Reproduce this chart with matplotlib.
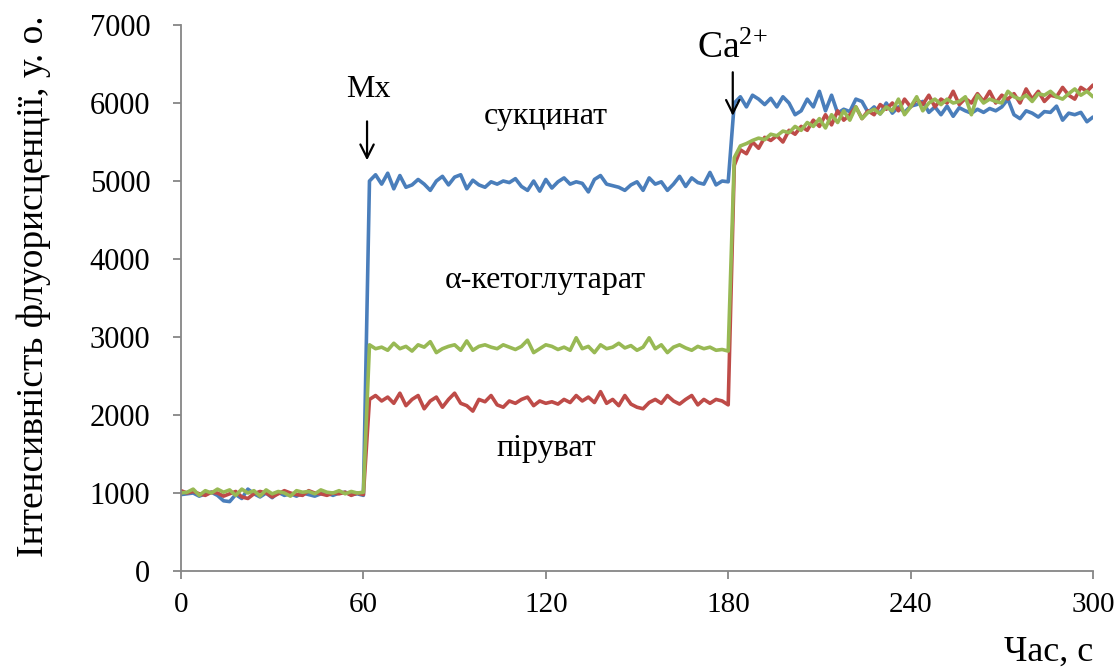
import numpy as np
import matplotlib.pyplot as plt

plt.rcParams['font.family'] = ['Liberation Serif', 'DejaVu Serif']

# time, s (one reading every 2 s)
t = np.arange(0, 301, 2)

# fluorescence, arb. units
succinate = [
    # 0..60 s
    980, 990, 1000, 960, 990, 1010, 970, 900, 890, 980,
    930, 1050, 990, 950, 1000, 940, 1010, 970, 990, 960,
    1000, 980, 960, 990, 1000, 970, 1000, 1010, 980, 990, 970,
    # 62..180 s
    5000, 5080, 4960, 5100, 4900, 5070, 4920, 4950, 5020, 4960,
    4880, 5000, 5060, 4950, 5050, 5080, 4900, 5010, 4950, 4920,
    4990, 4960, 5000, 4980, 5030, 4930, 4880, 5000, 4870, 5020,
    4910, 4990, 5040, 4960, 4990, 4970, 4860, 5020, 5070, 4960,
    4940, 4920, 4880, 4950, 4990, 4880, 5040, 4960, 4990, 4880,
    4960, 5060, 4930, 5040, 4980, 4960, 5110, 4950, 5000, 4990,
    # 182..300 s
    6000, 6080, 5950, 6100, 6050, 5980, 6060, 5950, 6080, 6000,
    5850, 5900, 6050, 5950, 6150, 5900, 6100, 5870, 5920, 5890,
    6050, 6020, 5880, 5950, 5860, 6000, 5870, 5950, 5880, 5960,
    5980, 6020, 5880, 5950, 5850, 5960, 5830, 5940, 5900, 5870,
    5920, 5880, 5930, 5900, 5950, 6050, 5850, 5800, 5900, 5870,
    5820, 5890, 5880, 5960, 5780, 5870, 5850, 5880, 5760, 5820,
]
pyruvate = [
    1030, 1000, 1020, 990, 970, 1010, 1000, 960, 990, 1020,
    950, 930, 990, 1020, 1000, 950, 990, 1030, 1000, 980,
    970, 1030, 1000, 990, 970, 1000, 990, 1010, 970, 1000, 980,
    2200, 2250, 2180, 2230, 2150, 2280, 2120, 2200, 2250, 2080,
    2180, 2230, 2100, 2200, 2280, 2150, 2120, 2050, 2200, 2170,
    2250, 2130, 2100, 2180, 2150, 2200, 2230, 2120, 2180, 2150,
    2170, 2140, 2200, 2160, 2250, 2180, 2230, 2160, 2300, 2150,
    2200, 2120, 2250, 2140, 2100, 2080, 2160, 2200, 2150, 2250,
    2180, 2140, 2200, 2250, 2130, 2200, 2150, 2200, 2180, 2130,
    5200, 5400, 5350, 5500, 5420, 5560, 5520, 5580, 5500, 5650,
    5600, 5700, 5650, 5780, 5700, 5850, 5720, 5900, 5780, 5850,
    5950, 5800, 5900, 5850, 5980, 5920, 6000, 5900, 6050, 5950,
    6050, 5980, 6100, 5950, 6050, 6000, 6150, 5980, 6060, 6000,
    6120, 6020, 6150, 6000, 6100, 6050, 6120, 6000, 6180, 6050,
    6150, 6020, 6100, 6080, 6200, 6100, 6050, 6200, 6150, 6230,
]
ketoglutarate = [
    1000, 1010, 1050, 970, 1030, 1000, 1050, 1010, 1040, 970,
    1050, 1000, 1030, 960, 1040, 990, 1020, 1000, 960, 1030,
    1010, 1020, 990, 1040, 1010, 1000, 1030, 990, 1020, 1000, 1010,
    2900, 2850, 2870, 2830, 2920, 2850, 2880, 2820, 2900, 2870,
    2940, 2800, 2850, 2880, 2900, 2830, 2950, 2830, 2880, 2900,
    2870, 2850, 2900, 2870, 2840, 2880, 2960, 2800, 2850, 2900,
    2880, 2840, 2870, 2830, 2990, 2850, 2880, 2800, 2900, 2850,
    2870, 2920, 2860, 2890, 2830, 2870, 2990, 2850, 2900, 2800,
    2870, 2900, 2860, 2830, 2880, 2850, 2870, 2830, 2840, 2820,
    5300, 5450, 5480, 5520, 5550, 5530, 5600, 5580, 5640, 5620,
    5700, 5650, 5750, 5700, 5800, 5680, 5850, 5750, 5900, 5780,
    5950, 5800, 5880, 5920, 5860, 5950, 5900, 6050, 5850, 5950,
    6080, 5900, 6000, 6050, 5980, 6050, 6000, 6020, 6080, 5850,
    6100, 6000, 6050, 6020, 6000, 6150, 6080, 6050, 6100, 6020,
    6120, 6100, 6150, 6080, 6050, 6120, 6180, 6100, 6150, 6080,
]

fig = plt.figure(figsize=(11.2, 6.67), dpi=100)
ax = fig.add_axes([0.1616, 0.1439, 0.8143, 0.8186])

line_kw = dict(lw=2.6, solid_joinstyle='round', solid_capstyle='round')
ax.plot(t, succinate, color='#4A7EBB', **line_kw)
ax.plot(t, pyruvate, color='#BE4B48', **line_kw)
ax.plot(t, ketoglutarate, color='#98B954', **line_kw)

ax.set_xlim(0, 300)
ax.set_ylim(0, 7000)
ax.set_xticks(range(0, 301, 60))
ax.set_yticks(range(0, 7001, 1000))
for s in ['top', 'right']:
    ax.spines[s].set_visible(False)
for s in ['left', 'bottom']:
    ax.spines[s].set_color('#868686')
    ax.spines[s].set_linewidth(1.3)
ax.tick_params(colors='#868686', labelcolor='black', length=6, width=1.3)
ax.tick_params(axis='y', labelsize=22, pad=16)
ax.tick_params(axis='x', labelsize=21, pad=9)

ax.set_ylabel('Інтенсивність флуорисценції, у. о.', fontsize=27)
ax.yaxis.set_label_coords(-0.143, 0.522)
ax.set_xlabel('Час, с', fontsize=26, ha='right')
ax.xaxis.set_label_coords(1.0, -0.118)

ax.text(61.5, 6170, 'Мх', ha='center', va='center', fontsize=23)
ax.annotate('', xy=(61.2, 5230), xytext=(61.2, 5800),
            arrowprops=dict(arrowstyle='->', color='black', lw=1.6, mutation_scale=24))
ax.text(181.5, 6700, r'$\mathregular{Ca^{2{+}}}$', ha='center', va='center', fontsize=27)
ax.annotate('', xy=(181.5, 5800), xytext=(181.5, 6430),
            arrowprops=dict(arrowstyle='->', color='black', lw=1.6, mutation_scale=24))
ax.text(120, 5830, 'сукцинат', ha='center', va='center', fontsize=23)
ax.text(120, 3720, 'α-кетоглутарат', ha='center', va='center', fontsize=23)
ax.text(120, 1570, 'піруват', ha='center', va='center', fontsize=23)

fig.savefig('out.png', dpi=100)
